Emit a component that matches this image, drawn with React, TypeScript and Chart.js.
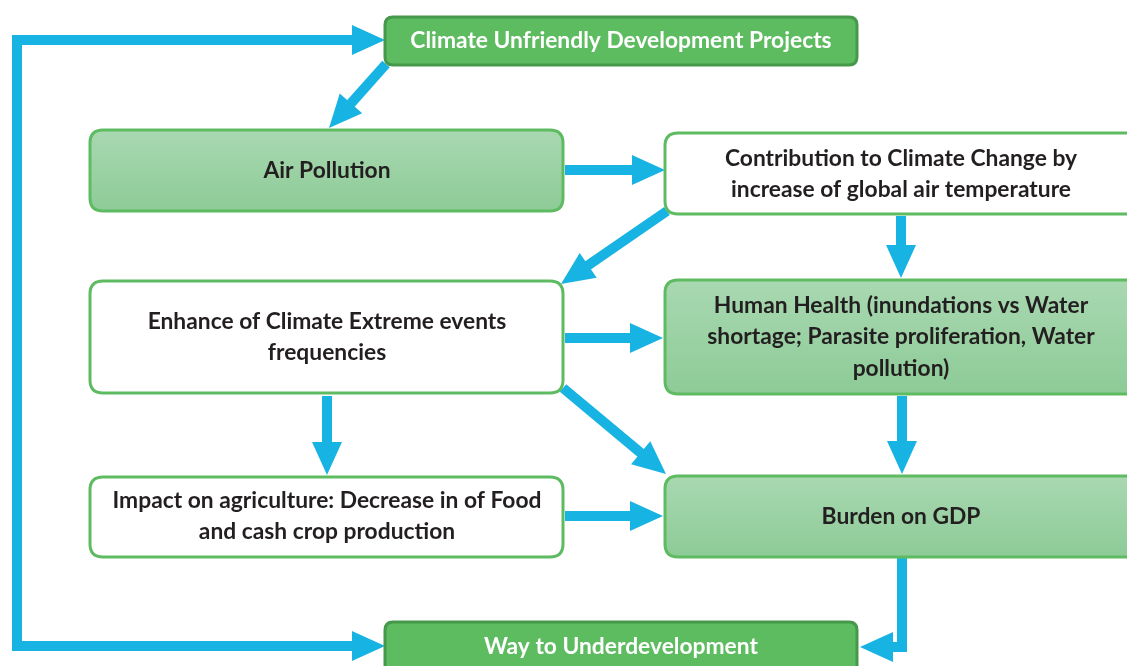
import React, { useEffect, useRef } from "react";
import { Chart, registerables } from "chart.js";

Chart.register(...registerables);

// ---- Flowchart data (diagram units = pixels of a 1127 x 666 canvas) ----
const nodeLines: string[][] = [
  ["Climate Unfriendly Development Projects"],
  ["Air Pollution"],
  ["Contribution to Climate Change by", "increase of global air temperature"],
  ["Enhance of Climate Extreme events", "frequencies"],
  ["Human Health (inundations vs Water", "shortage; Parasite proliferation, Water", "pollution)"],
  ["Impact on agriculture: Decrease in of Food", "and cash crop production"],
  ["Burden on GDP"],
  ["Way to Underdevelopment"],
];
const nodeLeft = [385, 90, 665, 90, 665, 90, 665, 385];
const nodeTop = [17, 130, 133, 281, 280, 477, 476, 622];
const nodeRight = [857, 563, 1140, 563, 1140, 563, 1140, 857];
const nodeBottom = [65, 211, 214, 393, 394, 557, 557, 680];
const nodeKind = ["solid", "grad", "white", "white", "grad", "white", "grad", "solid"];
const nodeTextCenterX = [621, 327, 901, 327, 901, 327, 901, 621];
const nodeTextCenterY = [41, 171, 174, 337, 337, 516, 517, 647];

const arrowPaths: number[][][] = [
  [[17, 651], [17, 40], [385, 40]],
  [[12, 646], [385, 646]],
  [[386, 64], [329, 128]],
  [[565, 170], [665, 170]],
  [[667, 211], [561, 284]],
  [[901, 216], [901, 278]],
  [[565, 338], [663, 338]],
  [[563, 388], [666, 474]],
  [[327, 396], [327, 475]],
  [[565, 516], [663, 516]],
  [[902, 396], [902, 474]],
  [[902, 558], [902, 647], [860, 647]],
];

const ARROW = "#17b3e3";
const HEAD_LEN = 33;
const HEAD_HALF = 15;
const SHAFT = 10;

function shaftPoints(path: number[][]) {
  const pts = path.map((p) => ({ x: p[0], y: p[1] }));
  const n = pts.length;
  const a = pts[n - 2];
  const b = pts[n - 1];
  const dx = b.x - a.x;
  const dy = b.y - a.y;
  const len = Math.hypot(dx, dy);
  pts[n - 1] = { x: b.x - (dx / len) * (HEAD_LEN - 2), y: b.y - (dy / len) * (HEAD_LEN - 2) };
  return pts;
}

function roundRect(ctx: CanvasRenderingContext2D, x0: number, y0: number, x1: number, y1: number, r: number) {
  ctx.beginPath();
  ctx.moveTo(x0 + r, y0);
  ctx.lineTo(x1 - r, y0);
  ctx.quadraticCurveTo(x1, y0, x1, y0 + r);
  ctx.lineTo(x1, y1 - r);
  ctx.quadraticCurveTo(x1, y1, x1 - r, y1);
  ctx.lineTo(x0 + r, y1);
  ctx.quadraticCurveTo(x0, y1, x0, y1 - r);
  ctx.lineTo(x0, y0 + r);
  ctx.quadraticCurveTo(x0, y0, x0 + r, y0);
  ctx.closePath();
}

const flowPlugin = {
  id: "flow",
  afterDatasetsDraw(chart: any) {
    const ctx: CanvasRenderingContext2D = chart.ctx;
    const xs = chart.scales.x;
    const ys = chart.scales.y;
    const X = (v: number) => xs.getPixelForValue(v);
    const Y = (v: number) => ys.getPixelForValue(v);
    ctx.save();
    // arrow heads
    ctx.fillStyle = ARROW;
    arrowPaths.forEach((path) => {
      const n = path.length;
      const ax = X(path[n - 2][0]), ay = Y(path[n - 2][1]);
      const bx = X(path[n - 1][0]), by = Y(path[n - 1][1]);
      const len = Math.hypot(bx - ax, by - ay);
      const ux = (bx - ax) / len, uy = (by - ay) / len;
      const cx = bx - ux * HEAD_LEN, cy = by - uy * HEAD_LEN;
      ctx.beginPath();
      ctx.moveTo(bx, by);
      ctx.lineTo(cx - uy * HEAD_HALF, cy + ux * HEAD_HALF);
      ctx.lineTo(cx + uy * HEAD_HALF, cy - ux * HEAD_HALF);
      ctx.closePath();
      ctx.fill();
    });
    // boxes
    nodeLines.forEach((lines, i) => {
      const x0 = X(nodeLeft[i]), x1 = X(nodeRight[i]);
      const y0 = Y(nodeTop[i]), y1 = Y(nodeBottom[i]);
      const kind = nodeKind[i];
      roundRect(ctx, x0, y0, x1, y1, kind === "solid" ? 8 : 13);
      if (kind === "solid") {
        ctx.fillStyle = "#5dbb60";
      } else if (kind === "grad") {
        const g = ctx.createLinearGradient(0, y0, 0, y1);
        g.addColorStop(0, "#a9d8b1");
        g.addColorStop(1, "#8dcb97");
        ctx.fillStyle = g;
      } else {
        ctx.fillStyle = "#ffffff";
      }
      ctx.fill();
      ctx.lineWidth = 3;
      ctx.strokeStyle = kind === "solid" ? "#46984a" : "#5fbb62";
      ctx.stroke();
      ctx.fillStyle = kind === "solid" ? "#ffffff" : "#231f20";
      ctx.font = "bold 22.8px Lato";
      ctx.textAlign = "center";
      ctx.textBaseline = "middle";
      const lh = 31.5;
      const cx = X(nodeTextCenterX[i]);
      const cy = Y(nodeTextCenterY[i]);
      lines.forEach((t, k) => {
        ctx.fillText(t, cx, cy + (k - (lines.length - 1) / 2) * lh);
      });
    });
    ctx.restore();
  },
};

export default function App() {
  const ref = useRef<HTMLCanvasElement | null>(null);
  useEffect(() => {
    document.body.style.margin = "0";
    const canvas = ref.current!;
    const chart = new Chart(canvas, {
      type: "line",
      data: {
        datasets: arrowPaths.map((p, i) => ({
          label: "arrow" + i,
          data: shaftPoints(p),
          borderColor: ARROW,
          borderWidth: SHAFT,
          borderCapStyle: "butt",
          borderJoinStyle: "miter",
          pointRadius: 0,
          fill: false,
          tension: 0,
        })) as any,
      },
      options: {
        responsive: false,
        animation: false,
        parsing: false as any,
        layout: { padding: 0 },
        plugins: { legend: { display: false }, tooltip: { enabled: false } },
        scales: {
          x: { type: "linear", min: 0, max: 1127, display: false },
          y: { type: "linear", min: 0, max: 666, reverse: true, display: false },
        },
        events: [],
      },
      plugins: [flowPlugin],
    });
    return () => chart.destroy();
  }, []);
  return (
    <div style={{ width: 1127, height: 666, background: "#fff" }}>
      <canvas ref={ref} width={1127} height={666} style={{ display: "block" }} />
    </div>
  );
}
